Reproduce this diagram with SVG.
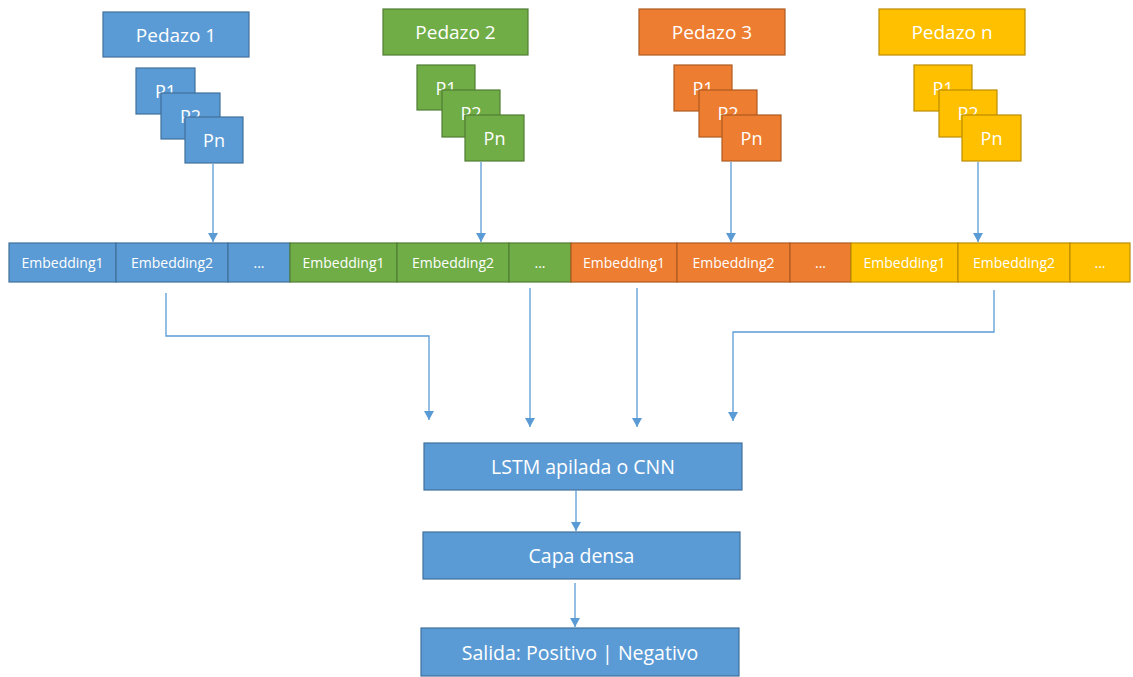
<svg xmlns="http://www.w3.org/2000/svg" width="1133" height="677" viewBox="0 0 1133 677">
<style>
text{font-family:"Open Sans","Noto Sans","Liberation Sans",sans-serif;fill:#fff;text-anchor:middle;dominant-baseline:central}
.b{fill:#5B9BD5;stroke:#41719C;stroke-width:1.2}
.g{fill:#70AD47;stroke:#507E32;stroke-width:1.2}
.o{fill:#ED7D31;stroke:#AE5A21;stroke-width:1.2}
.y{fill:#FFC000;stroke:#BC8C00;stroke-width:1.2}
.t{font-size:19px}
.m{font-size:19.5px}
.s{font-size:18px}
.e{font-size:14px}
.c{fill:none;stroke:#5B9BD5;stroke-width:1.3;marker-end:url(#ah)}
</style>
<defs>
<marker id="ah" markerUnits="userSpaceOnUse" markerWidth="11" markerHeight="10" refX="9" refY="5" orient="auto">
<path d="M0,0 L9,5 L0,10 Z" fill="#5B9BD5"/>
</marker>
</defs>
<rect width="1133" height="677" fill="#fff"/>

<g id="pedazo1">
<rect class="b" x="103" y="12" width="146" height="45"/><text class="t" x="176" y="34.5">Pedazo 1</text>
<rect class="b" x="136" y="68" width="59" height="46"/><text class="s" x="165.5" y="91">P1</text>
<rect class="b" x="161" y="93" width="59" height="46"/><text class="s" x="190.5" y="116">P2</text>
<rect class="b" x="185" y="117" width="58" height="46"/><text class="s" x="214" y="140">Pn</text>
</g>
<g id="pedazo2">
<rect class="g" x="383" y="9" width="145" height="46"/><text class="t" x="455.5" y="32">Pedazo 2</text>
<rect class="g" x="417" y="65" width="58" height="45"/><text class="s" x="446" y="88">P1</text>
<rect class="g" x="442" y="90" width="58" height="47"/><text class="s" x="471" y="113">P2</text>
<rect class="g" x="465" y="115" width="59" height="46"/><text class="s" x="494.5" y="138">Pn</text>
</g>
<g id="pedazo3">
<rect class="o" x="639" y="9" width="146" height="46"/><text class="t" x="712" y="32">Pedazo 3</text>
<rect class="o" x="674" y="65" width="58" height="46"/><text class="s" x="703" y="88">P1</text>
<rect class="o" x="699" y="90" width="58" height="47"/><text class="s" x="728" y="113">P2</text>
<rect class="o" x="722" y="115" width="59" height="46"/><text class="s" x="751.5" y="138">Pn</text>
</g>
<g id="pedazon">
<rect class="y" x="879" y="9" width="146" height="46"/><text class="t" x="952" y="32">Pedazo n</text>
<rect class="y" x="914" y="65" width="58" height="46"/><text class="s" x="943" y="88">P1</text>
<rect class="y" x="939" y="90" width="58" height="47"/><text class="s" x="968" y="113">P2</text>
<rect class="y" x="962" y="115" width="59" height="46"/><text class="s" x="991.5" y="138">Pn</text>
</g>

<g id="emb-blue">
<rect class="b" x="9" y="243" width="107" height="39"/><text class="e" x="62.5" y="262.5">Embedding1</text>
<rect class="b" x="116" y="243" width="112" height="39"/><text class="e" x="172" y="262.5">Embedding2</text>
<rect class="b" x="228" y="243" width="62" height="39"/><text class="e" x="259" y="262.5">...</text>
</g>
<g id="emb-green">
<rect class="g" x="290" y="243" width="107" height="39"/><text class="e" x="343.5" y="262.5">Embedding1</text>
<rect class="g" x="397" y="243" width="112" height="39"/><text class="e" x="453" y="262.5">Embedding2</text>
<rect class="g" x="509" y="243" width="62" height="39"/><text class="e" x="540" y="262.5">...</text>
</g>
<g id="emb-orange">
<rect class="o" x="571" y="243" width="106" height="39"/><text class="e" x="624" y="262.5">Embedding1</text>
<rect class="o" x="677" y="243" width="113" height="39"/><text class="e" x="733.5" y="262.5">Embedding2</text>
<rect class="o" x="790" y="243" width="61" height="39"/><text class="e" x="820.5" y="262.5">...</text>
</g>
<g id="emb-yellow">
<rect class="y" x="851" y="243" width="107" height="39"/><text class="e" x="904.5" y="262.5">Embedding1</text>
<rect class="y" x="958" y="243" width="112" height="39"/><text class="e" x="1014" y="262.5">Embedding2</text>
<rect class="y" x="1070" y="243" width="60" height="39"/><text class="e" x="1100" y="262.5">...</text>
</g>

<g id="lstm">
<rect class="b" x="424" y="443" width="318" height="47"/><text class="m" x="583" y="466.5">LSTM apilada o CNN</text>
</g>
<g id="densa">
<rect class="b" x="423" y="532" width="317" height="47"/><text class="m" x="581.5" y="555.5">Capa densa</text>
</g>
<g id="salida">
<rect class="b" x="421" y="628" width="318" height="48"/><text class="m" x="580" y="652">Salida: Positivo | Negativo</text>
</g>

<g id="connectors">
<path class="c" d="M213,164 V242"/>
<path class="c" d="M481,162 V242"/>
<path class="c" d="M731,162 V242"/>
<path class="c" d="M978,162 V242"/>
<path class="c" d="M166,293 V336 H429 V420"/>
<path class="c" d="M530,288 V427"/>
<path class="c" d="M637,288 V427"/>
<path class="c" d="M994,290 V332 H733 V421"/>
<path class="c" d="M576,490 V531"/>
<path class="c" d="M575,583 V627"/>
</g>
</svg>
